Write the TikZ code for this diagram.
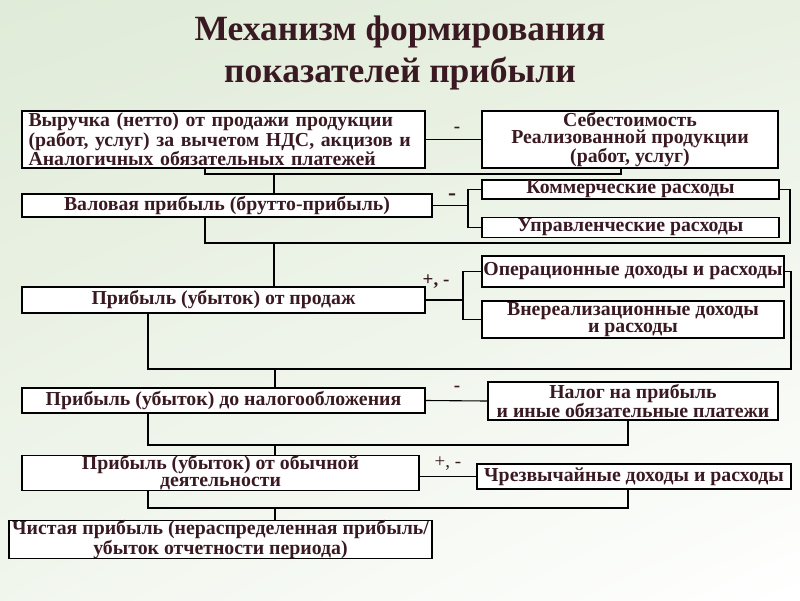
\documentclass[tikz,border=0pt]{standalone}
\usepackage{fontspec}
\usetikzlibrary{shadings}
\setmainfont{Liberation Serif}
\definecolor{txt}{HTML}{3A1A22}
\definecolor{bgA}{HTML}{E0EBD8}
\definecolor{bgB}{HTML}{FFFFFF}
\begin{document}
\begin{tikzpicture}[x=1pt,y=-1pt,
  box/.style={draw, fill=white, line width=1.3pt, inner sep=0pt, text=txt,
    font=\bfseries\fontsize{19.8}{17}\selectfont, align=center},
  conn/.style={line width=1.1pt},
  sign/.style={text=txt, font=\bfseries\fontsize{19}{19}\selectfont, inner sep=0pt}]
\shade[upper left=bgA, upper right=bgA!75!white, lower left=bgA!45!white, lower right=bgB] (0,0) rectangle (800,600);
\useasboundingbox (0,0) rectangle (800,600);
\node[text=txt, font=\bfseries\fontsize{35.5}{42}\selectfont, align=center] (title) at (400,53) {Механизм формирования\\показателей прибыли};
% boxes
\node[box, minimum width=403pt, minimum height=57pt, text width=390pt, align=left] (A) at (223.5,139.5) {Выручка (нетто) от продажи продукции\\(работ, услуг) за вычетом НДС, акцизов и\\Аналогичных обязательных платежей};
\node[box, minimum width=296pt, minimum height=57pt] (B) at (630,139.5) {Себестоимость\\Реализованной продукции\\(работ, услуг)};
\node[box, minimum width=410pt, minimum height=23pt] (C) at (227,205.5) {Валовая прибыль (брутто-прибыль)};
\node[box, minimum width=297pt, minimum height=19pt] (D) at (630.5,189.5) {Коммерческие расходы};
\node[box, minimum width=297pt, minimum height=20pt] (E) at (630.5,227.5) {Управленческие расходы};
\node[box, minimum width=403pt, minimum height=26pt] (F) at (223.5,300) {Прибыль (убыток) от продаж};
\node[box, minimum width=302pt, minimum height=31pt] (G) at (633,271.5) {Операционные доходы и расходы};
\node[box, minimum width=302pt, minimum height=37pt] (H) at (633,319.5) {Внереализационные доходы\\и расходы};
\node[box, minimum width=403pt, minimum height=25pt] (I) at (223.5,400.5) {Прибыль (убыток) до налогообложения};
\node[box, minimum width=290pt, minimum height=38pt] (J) at (633,401) {Налог на прибыль\\и иные обязательные платежи};
\node[box, minimum width=397pt, minimum height=32pt] (K) at (220.5,473) {Прибыль (убыток) от обычной\\деятельности};
\node[box, minimum width=314pt, minimum height=25pt] (L) at (634,476.5) {Чрезвычайные доходы и расходы};
\node[box, minimum width=423pt, minimum height=37pt] (M) at (220.5,539.5) {Чистая прибыль (нераспределенная прибыль/\\убыток отчетности периода)};
% joints
\coordinate (a1) at (205,174);
\coordinate (a2) at (621,174);
\coordinate (a3) at (274,174);
\coordinate (c1) at (468,205.5);
\coordinate (d1) at (790,243);
\coordinate (d2) at (205,243);
\coordinate (d3) at (274,243);
\coordinate (f1) at (463,300);
\coordinate (g1) at (791,369);
\coordinate (g2) at (148,369);
\coordinate (g3) at (275,369);
\coordinate (i1) at (148,445);
\coordinate (i2) at (628,445);
\coordinate (i3) at (275,445);
\coordinate (k1) at (148,508);
\coordinate (k2) at (628,508);
\coordinate (k3) at (275,508);
% connectors
\draw[conn] (A.east) -- (B.west);
\draw[conn] (A.south -| a1) -- (a1) -- (a2) -- (B.south -| a2);
\draw[conn] (a3) -- (C.north -| a3);
\draw[conn] (C.east) -- (c1);
\draw[conn] (D.west) -| (c1) |- (E.west);
\draw[conn] (D.east) -| (d1) -- (d2) -- (C.south -| d2);
\draw[conn] (d3) -- (F.north -| d3);
\draw[conn] (F.east) -- (f1);
\draw[conn] (G.west) -| (f1) |- (H.west);
\draw[conn] (G.east) -| (g1) -- (g2) -- (F.south -| g2);
\draw[conn] (g3) -- (I.north -| g3);
\draw[conn] (I.east) -- (J.west);
\draw[conn] (I.south -| i1) -- (i1) -- (i2) -- (J.south -| i2);
\draw[conn] (i3) -- (K.north -| i3);
\draw[conn] (K.east |- L.west) -- (L.west);
\draw[conn] (K.south -| k1) -- (k1) -- (k2) -- (L.south -| k2);
\draw[conn] (k3) -- (M.north -| k3);
% signs
\node[sign] (s1) at (457,130) {-};
\node[sign, font=\bfseries\fontsize{24}{24}\selectfont] (s2) at (452,197) {-};
\node[sign] (s3) at (436,282) {+, -};
\node[sign] (s4) at (457,389) {-};
\node[sign, font=\fontsize{19}{19}\selectfont] (s5) at (448,464) {+, -};
\end{tikzpicture}
\end{document}
